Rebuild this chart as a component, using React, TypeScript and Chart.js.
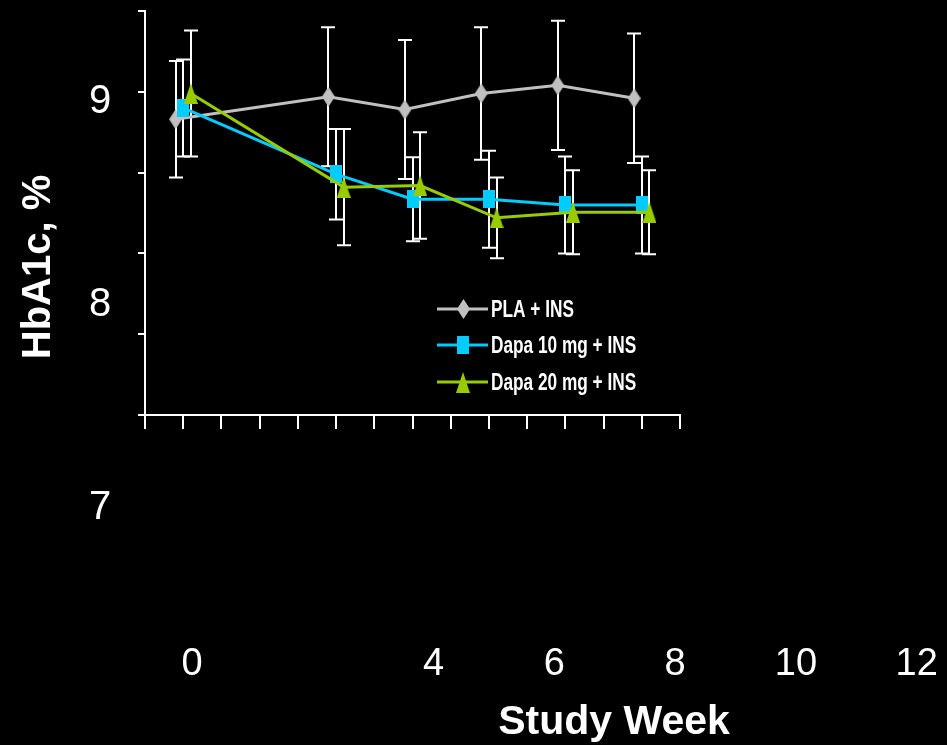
import React, { useEffect, useRef } from "react";
import { Chart, registerables } from "chart.js";

Chart.register(...registerables);

// Study weeks at which HbA1c was measured
const weeks = [0, 4, 6, 8, 10, 12];

// Mean HbA1c (%) and error (SD) per group
const plaMean = [8.83, 8.97, 8.89, 8.99, 9.04, 8.96];
const plaErr = [0.36, 0.43, 0.43, 0.41, 0.4, 0.4];
const dapa10Mean = [8.9, 8.49, 8.335, 8.335, 8.3, 8.3];
const dapa10Err = [0.3, 0.28, 0.26, 0.3, 0.3, 0.3];
const dapa20Mean = [8.99, 8.41, 8.42, 8.22, 8.255, 8.255];
const dapa20Err = [0.39, 0.36, 0.33, 0.25, 0.26, 0.26];

const seriesNames = ["PLA + INS", "Dapa 10 mg + INS", "Dapa 20 mg + INS"];
const yTickLabels = [9, 8, 7];
const xTickLabels = [0, 4, 6, 8, 10, 12];
const yTitle = "HbA1c, %";
const xTitle = "Study Week";

const GRAY = "#C0C0C0";
const CYAN = "#00CCFF";
const GREEN = "#99CC00";
const FONT = "'Liberation Sans', Arial, sans-serif";

type Shape = "diamond" | "square" | "triangle";

function makeMarker(shape: Shape, color: string, w: number, h: number) {
  const c = document.createElement("canvas");
  c.width = w;
  c.height = h;
  const g = c.getContext("2d")!;
  g.fillStyle = color;
  g.beginPath();
  if (shape === "diamond") {
    g.moveTo(w / 2, 0);
    g.lineTo(w, h / 2);
    g.lineTo(w / 2, h);
    g.lineTo(0, h / 2);
  } else if (shape === "triangle") {
    g.moveTo(w / 2, 0);
    g.lineTo(w, h);
    g.lineTo(0, h);
  } else {
    g.rect(0, 0, w, h);
  }
  g.closePath();
  g.fill();
  return c;
}

// Vertical whiskers with caps, drawn beneath the series lines
const errorBarsPlugin = {
  id: "errorBars",
  beforeDatasetsDraw(chart: any) {
    const { ctx, scales } = chart;
    const x = scales.x;
    const y = scales.y;
    ctx.save();
    ctx.strokeStyle = "#FFFFFF";
    ctx.lineWidth = 2;
    chart.data.datasets.forEach((ds: any) => {
      ds.data.forEach((p: any, j: number) => {
        const e = ds.errors[j];
        const px = Math.round(x.getPixelForValue(p.x));
        const top = y.getPixelForValue(p.y + e);
        const bot = y.getPixelForValue(p.y - e);
        ctx.beginPath();
        ctx.moveTo(px, top);
        ctx.lineTo(px, bot);
        ctx.moveTo(px - 7, top);
        ctx.lineTo(px + 7, top);
        ctx.moveTo(px - 7, bot);
        ctx.lineTo(px + 7, bot);
        ctx.stroke();
      });
    });
    ctx.restore();
  },
};

// Axis numbers, axis titles and the in-plot legend
const slideTextPlugin = {
  id: "slideText",
  afterDraw(chart: any) {
    const { ctx, scales } = chart;
    ctx.save();
    ctx.fillStyle = "#FFFFFF";

    ctx.font = `40px ${FONT}`;
    ctx.textAlign = "center";
    ctx.textBaseline = "alphabetic";
    yTickLabels.forEach((v) => {
      ctx.fillText(String(v), 100, scales.yText.getPixelForValue(v) + 14.5);
    });

    ctx.font = `38px ${FONT}`;
    xTickLabels.forEach((v) => {
      ctx.fillText(String(v), scales.xText.getPixelForValue(v), 675);
    });

    ctx.font = `bold 41px ${FONT}`;
    ctx.fillText(xTitle, 614, 734);

    ctx.save();
    ctx.translate(50, 267);
    ctx.rotate(-Math.PI / 2);
    ctx.font = `bold 40px ${FONT}`;
    ctx.fillText(yTitle, 0, 0);
    ctx.restore();

    // legend
    const rows = [309, 345, 382];
    chart.data.datasets.forEach((ds: any, i: number) => {
      const ly = rows[i];
      ctx.strokeStyle = ds.borderColor;
      ctx.lineWidth = 3;
      ctx.beginPath();
      ctx.moveTo(437, ly);
      ctx.lineTo(488, ly);
      ctx.stroke();
      const m = ds.pointStyle as HTMLCanvasElement;
      ctx.drawImage(m, Math.round(463 - m.width / 2), Math.round(ly - m.height / 2));
      ctx.save();
      ctx.translate(491, ly + 8);
      ctx.scale(0.75, 1);
      ctx.font = `bold 23px ${FONT}`;
      ctx.textAlign = "left";
      ctx.fillText(seriesNames[i], 0, 0);
      ctx.restore();
    });

    ctx.restore();
  },
};

export default function App() {
  const canvasRef = useRef<HTMLCanvasElement>(null);

  useEffect(() => {
    const canvas = canvasRef.current;
    if (!canvas) return;

    const toPoints = (means: number[], shift: number) =>
      means.map((m, i) => ({ x: weeks[i] + shift, y: m }));

    const axisLine = { color: "#FFFFFF", width: 2 };

    const chart = new Chart(canvas, {
      type: "line",
      data: {
        datasets: [
          {
            label: seriesNames[0],
            data: toPoints(plaMean, -0.2),
            errors: plaErr,
            borderColor: GRAY,
            borderWidth: 3,
            pointStyle: makeMarker("diamond", GRAY, 13, 20),
            order: 2,
          } as any,
          {
            label: seriesNames[1],
            data: toPoints(dapa10Mean, 0),
            errors: dapa10Err,
            borderColor: CYAN,
            borderWidth: 3,
            pointStyle: makeMarker("square", CYAN, 12, 18),
            order: 1,
          } as any,
          {
            label: seriesNames[2],
            data: toPoints(dapa20Mean, 0.2),
            errors: dapa20Err,
            borderColor: GREEN,
            borderWidth: 3,
            pointStyle: makeMarker("triangle", GREEN, 14, 21),
            order: 0,
          } as any,
        ],
      },
      options: {
        responsive: false,
        animation: false,
        devicePixelRatio: 1,
        clip: false as any,
        layout: { padding: { left: 135, top: 10, right: 267, bottom: 310 } },
        elements: { line: { tension: 0 }, point: { radius: 8 } },
        plugins: { legend: { display: false }, tooltip: { enabled: false } },
        scales: {
          x: {
            type: "linear",
            min: -1,
            max: 13,
            ticks: { stepSize: 1, display: false },
            grid: { drawOnChartArea: false, color: "#FFFFFF", lineWidth: 2, tickLength: 14 },
            border: axisLine,
            afterFit: (s: any) => {
              s.height = 20;
            },
          },
          y: {
            type: "linear",
            min: 7,
            max: 9.5,
            ticks: { stepSize: 0.5, display: false },
            grid: { drawOnChartArea: false, color: "#FFFFFF", lineWidth: 2, tickLength: 7 },
            border: axisLine,
            afterFit: (s: any) => {
              s.width = 10;
            },
          },
          // placement scales for the number labels set away from the axes
          xText: { type: "linear", display: false, position: "bottom", min: -0.778, max: 8.08 },
          yText: { type: "linear", display: false, position: "left", min: 7.4417, max: 9.4294 },
        },
      } as any,
      plugins: [errorBarsPlugin, slideTextPlugin],
    });

    return () => chart.destroy();
  }, []);

  return (
    <div
      style={{
        position: "fixed",
        left: 0,
        top: 0,
        width: 947,
        height: 745,
        background: "#000000",
      }}
    >
      <canvas ref={canvasRef} width={947} height={745} style={{ display: "block" }} />
    </div>
  );
}
